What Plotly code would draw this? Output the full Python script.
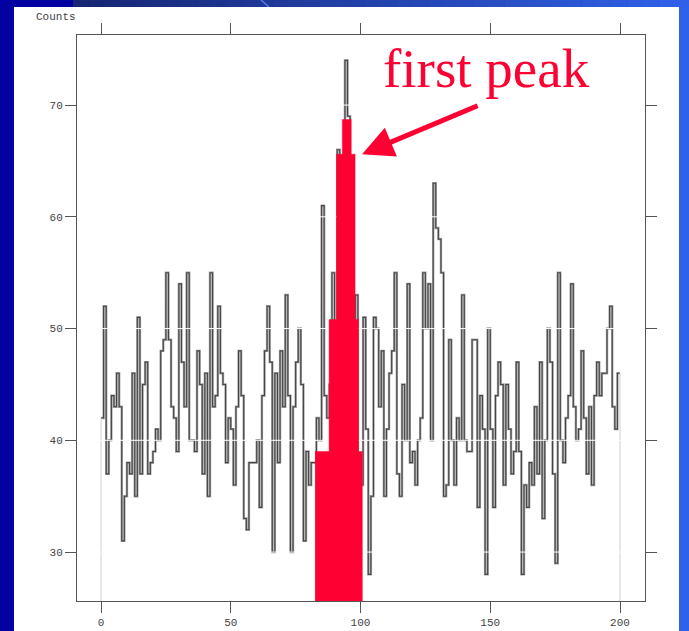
import plotly.graph_objects as go

# ---------------- data ----------------
counts = [
    42, 52, 37, 40, 44, 43, 46, 43, 31, 35,
    38, 37, 46, 35, 51, 37, 45, 47, 37, 38,
    39, 41, 40, 48, 49, 55, 49, 43, 42, 39,
    54, 47, 43, 55, 40, 40, 39, 48, 45, 37,
    46, 35, 55, 43, 44, 52, 46, 45, 38, 42,
    41, 36, 43, 48, 44, 33, 32, 38, 38, 38,
    40, 34, 44, 48, 52, 47, 30, 46, 38, 48,
    43, 53, 44, 30, 43, 47, 50, 45, 31, 39,
    36, 38, 38, 42, 40, 61, 44, 42, 45, 55,
    48, 66, 60, 63, 74, 69, 62, 48, 53, 37,
    36, 51, 41, 28, 35, 51, 50, 43, 48, 35,
    41, 46, 48, 55, 37, 35, 45, 40, 54, 38,
    39, 36, 40, 42, 55, 50, 54, 40, 63, 59,
    58, 55, 35, 36, 49, 40, 36, 42, 40, 53,
    40, 39, 39, 49, 49, 34, 44, 41, 28, 50,
    41, 34, 44, 47, 45, 36, 45, 41, 37, 39,
    47, 39, 28, 36, 34, 38, 36, 43, 37, 47,
    33, 40, 50, 47, 37, 29, 55, 40, 38, 42,
    44, 54, 43, 40, 41, 48, 42, 37, 43, 36,
    44, 47, 44, 46, 46, 50, 52, 43, 41, 46,
]
bin_edges = list(range(0, len(counts) + 1))

# highlighted "first peak" region (step outline)
peak_edges = [82.5, 87.9, 90.8, 93.0, 96.4, 97.9, 99.2, 100.8]
peak_levels = [39.0, 50.8, 65.6, 68.7, 65.6, 50.8, 39.0]

x_ticks = [0, 50, 100, 150, 200]
y_ticks = [30, 40, 50, 60, 70]
x_range = [-9.25, 209.63]
y_range = [25.62, 76.27]

annot_text = "first peak"
arrow_tip = (100.6, 65.6)
arrow_tail = (145.7, 70.0)

RED = "#ff0033"

# ---------------- figure ----------------
fig = go.Figure()

# main histogram outline: soft grey under-stroke + darker core stroke
fig.add_trace(go.Scatter(
    x=bin_edges, y=counts + [counts[-1]],
    mode="lines", line=dict(shape="hv", color="#a4a4a4", width=2.4),
    hoverinfo="skip", showlegend=False))
fig.add_trace(go.Scatter(
    x=bin_edges, y=counts + [counts[-1]],
    mode="lines", line=dict(shape="hv", color="#454545", width=1.1),
    hoverinfo="skip", showlegend=False))

# light outer edges of the histogram down to the baseline
fig.add_trace(go.Scatter(
    x=[bin_edges[0], bin_edges[0], None, bin_edges[-1], bin_edges[-1]],
    y=[0, counts[0], None, 0, counts[-1]],
    mode="lines", line=dict(color="#d0d0d0", width=1),
    hoverinfo="skip", showlegend=False))

# white grid lines drawn over the histogram
gx, gy = [], []
for t in y_ticks:
    gx += [x_range[0], x_range[1], None]
    gy += [t, t, None]
fig.add_trace(go.Scatter(
    x=gx, y=gy, mode="lines", line=dict(color="white", width=1),
    hoverinfo="skip", showlegend=False))

# red highlighted peak
fig.add_trace(go.Scatter(
    x=peak_edges, y=peak_levels + [peak_levels[-1]],
    mode="lines", line=dict(shape="hv", color=RED, width=0.5),
    fill="tozeroy", fillcolor=RED,
    hoverinfo="skip", showlegend=False))

W, H = 689, 631
L, R, T, B = 77, 44, 35, 30
PW, PH = W - L - R, H - T - B


def px(X):
    return (X - L) / PW


def py(Y):
    return (H - B - Y) / PH


shapes = []
# top gradient strip
n = 40
x0, x1 = 73, W
c0, c1 = (0x16, 0x26, 0x72), (0x30, 0x60, 0xe8)
for i in range(n):
    f = i / (n - 1)
    col = "rgb(%d,%d,%d)" % tuple(round(a + (b - a) * f) for a, b in zip(c0, c1))
    xa = x0 + (x1 - x0) * i / n
    xb = x0 + (x1 - x0) * (i + 1) / n + 0.5
    shapes.append(dict(type="rect", xref="paper", yref="paper",
                       x0=px(xa), x1=px(xb), y0=py(8), y1=py(-1),
                       fillcolor=col, line=dict(width=0), layer="below"))
# light diagonal streak in top strip
shapes.append(dict(type="line", xref="paper", yref="paper",
                   x0=px(261), y0=py(0), x1=px(269), y1=py(7),
                   line=dict(color="#5a7ee8", width=1.5), layer="below"))
# right strip
shapes.append(dict(type="rect", xref="paper", yref="paper",
                   x0=px(679), x1=px(W + 1), y0=py(H + 2), y1=py(7),
                   fillcolor="#2f62ea", line=dict(width=0), layer="below"))
# white panel
shapes.append(dict(type="rect", xref="paper", yref="paper",
                   x0=px(14), x1=px(679), y0=py(H + 2), y1=py(7),
                   fillcolor="white", line=dict(width=0), layer="below"))

axis_common = dict(
    showline=True, linecolor="#555555", linewidth=1, mirror="ticks",
    ticks="outside", ticklen=11, tickcolor="#555555", tickwidth=1,
    showgrid=False, zeroline=False, automargin=False,
    tickfont=dict(family="Liberation Mono, DejaVu Sans Mono, monospace",
                  size=11, color="#444444"),
)

fig.update_layout(
    width=W, height=H, autosize=False,
    margin=dict(l=L, r=R, t=T, b=B, pad=0, autoexpand=False),
    paper_bgcolor="#0202a2",
    plot_bgcolor="white",
    shapes=shapes,
    xaxis=dict(range=x_range, tickvals=x_ticks, **axis_common),
    yaxis=dict(range=y_range, tickvals=y_ticks, **axis_common),
    annotations=[
        dict(text="Counts", xref="paper", yref="paper",
             x=px(56), y=py(17), xanchor="center", yanchor="middle",
             showarrow=False,
             font=dict(family="Liberation Mono, DejaVu Sans Mono, monospace",
                       size=11, color="#444444")),
        dict(text=annot_text, xref="x", yref="y",
             x=148.6, y=73.3, xanchor="center", yanchor="middle",
             showarrow=False,
             font=dict(family="Liberation Serif, Times New Roman, serif",
                       size=55, color=RED)),
        dict(text="", xref="x", yref="y", axref="x", ayref="y",
             x=arrow_tip[0], y=arrow_tip[1],
             ax=arrow_tail[0], ay=arrow_tail[1],
             showarrow=True, arrowhead=2, arrowsize=1.25, arrowwidth=5,
             arrowcolor=RED, standoff=0),
    ],
)

fig.write_html("out.html")
